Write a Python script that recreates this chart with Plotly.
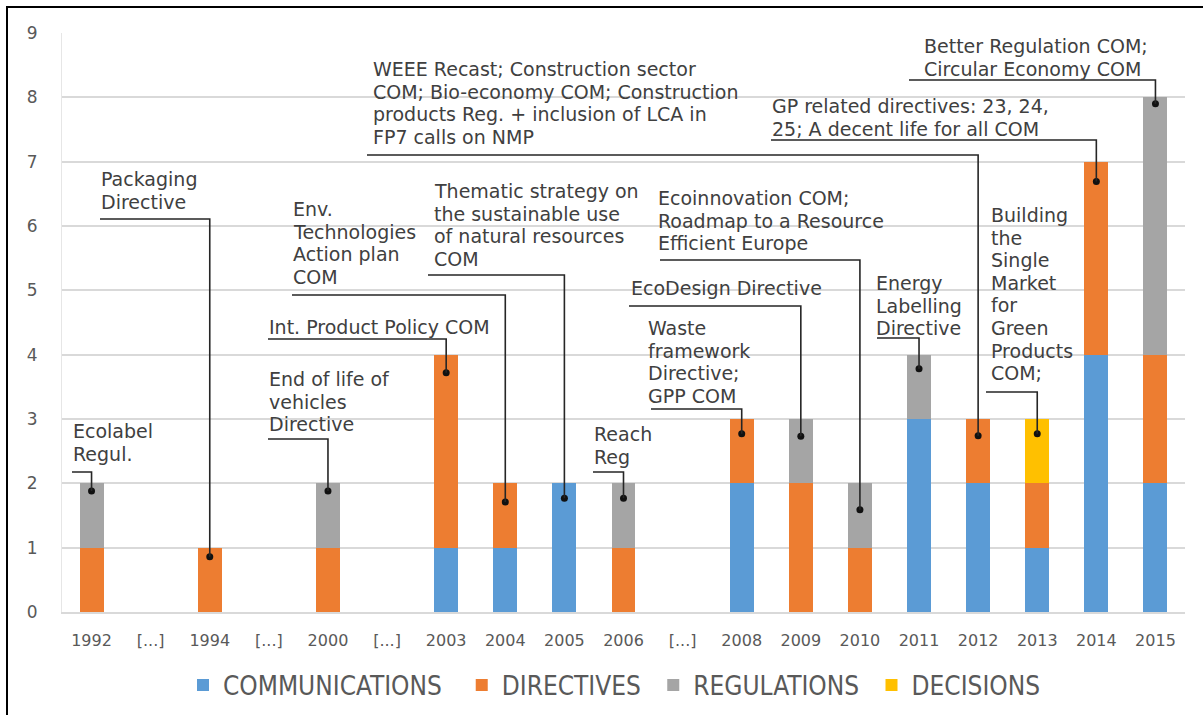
import plotly.graph_objects as go

# ---------------- data ----------------
categories = ["1992", "[...]", "1994", "[...]", "2000", "[...]", "2003", "2004", "2005",
              "2006", "[...]", "2008", "2009", "2010", "2011", "2012", "2013", "2014", "2015"]
communications = [0, 0, 0, 0, 0, 0, 1, 1, 2, 0, 0, 2, 0, 0, 3, 2, 1, 4, 2]
directives     = [1, 0, 1, 0, 1, 0, 3, 1, 0, 1, 0, 1, 2, 1, 0, 1, 1, 3, 2]
regulations    = [1, 0, 0, 0, 1, 0, 0, 0, 0, 1, 0, 0, 1, 1, 1, 0, 0, 0, 4]
decisions      = [0, 0, 0, 0, 0, 0, 0, 0, 0, 0, 0, 0, 0, 0, 0, 0, 1, 0, 0]
y_ticks = [0, 1, 2, 3, 4, 5, 6, 7, 8, 9]

callout_texts = [
    ["Ecolabel", "Regul."],
    ["Packaging", "Directive"],
    ["End of life of", "vehicles", "Directive"],
    ["Int. Product Policy COM"],
    ["Env.", "Technologies", "Action plan", "COM"],
    ["Thematic strategy on", "the sustainable use", "of natural resources", "COM"],
    ["Reach", "Reg"],
    ["WEEE Recast; Construction sector", "COM; Bio-economy COM; Construction",
     "products Reg. + inclusion of LCA in", "FP7 calls on NMP"],
    ["GP related directives: 23, 24,", "25; A decent life for all COM"],
    ["Better Regulation COM;", "Circular Economy COM"],
    ["Ecoinnovation COM;", "Roadmap to a Resource", "Efficient Europe"],
    ["EcoDesign Directive"],
    ["Waste", "framework", "Directive;", "GPP COM"],
    ["Energy", "Labelling", "Directive"],
    ["Building", "the", "Single", "Market", "for", "Green", "Products", "COM;"],
]
callout_bars = [0, 2, 4, 6, 7, 8, 9, 15, 17, 18, 13, 12, 11, 14, 16]
callout_values = [1.88, 0.86, 1.88, 3.72, 1.71, 1.77, 1.77, 2.74, 6.69, 7.90,
                  1.59, 2.73, 2.77, 3.78, 2.77]

# ---------------- layout helpers (pixel positions measured on the reference) ----------------
W, H = 1203, 715
PL, PR, PT, PB = 62, 1185, 33, 612
N = len(categories)
YMAX = 9


def xd(px):
    return (px - PL) / (PR - PL) * N - 0.5


def yd(py):
    return (PB - py) / (PB - PT) * YMAX


def xp(px):
    return (px - PL) / (PR - PL)


def yp(py):
    return (PB - py) / (PB - PT)


# (text left, first line centre, leader y, leader x start) in pixels
callout_pos = [
    (72, 431, 472, 72),
    (100, 179, 219, 100),
    (268, 379, 439, 268),
    (268, 327, 339, 268),
    (292, 209, 295, 292),
    (433, 191, 275, 428),
    (593, 434, 472, 593),
    (372, 69, 155, 367),
    (771, 106, 140, 771),
    (923, 46, 80, 909),
    (657, 198, 260, 660),
    (630, 288, 306, 629),
    (647, 328, 409, 651),
    (875, 283, 338, 877),
    (990, 215, 392, 986),
]
LINE_STEP = 22.6

colors = {"COMMUNICATIONS": "#5B9BD5", "DIRECTIVES": "#ED7D31",
          "REGULATIONS": "#A5A5A5", "DECISIONS": "#FFC000"}
series = [("COMMUNICATIONS", communications), ("DIRECTIVES", directives),
          ("REGULATIONS", regulations), ("DECISIONS", decisions)]
legend_pads = ["\u00a0\u00a0", "\u00a0", "\u00a0", ""]

xs = list(range(N))
fig = go.Figure()
for (name, vals), pad in zip(series, legend_pads):
    fig.add_trace(go.Bar(x=xs, y=vals, name=name + pad,
                         marker=dict(color=colors[name], line=dict(width=0)),
                         hoverinfo="skip"))

fig.add_trace(go.Scatter(x=callout_bars, y=callout_values, mode="markers",
                         marker=dict(color="#111111", size=7), showlegend=False,
                         hoverinfo="skip", cliponaxis=False))

annotations = []
shapes = []
for lines, bar, val, (tx, ty, ly, lx) in zip(callout_texts, callout_bars, callout_values, callout_pos):
    for i, ln in enumerate(lines):
        annotations.append(dict(
            x=xd(tx), y=yd(ty + i * LINE_STEP), xref="x", yref="y",
            text=ln, showarrow=False, xanchor="left", yanchor="middle",
            font=dict(family="DejaVu Sans", size=19, color="#404040"),
            borderpad=0))
    path = f"M {xd(lx)},{yd(ly)} L {bar},{yd(ly)} L {bar},{val}"
    shapes.append(dict(type="path", path=path, xref="x", yref="y",
                       line=dict(color="#262626", width=1.6)))

# outer frame (top and left edges visible)
shapes.append(dict(type="path", xref="paper", yref="paper",
                   path=f"M {xp(7)},{yp(730)} L {xp(7)},{yp(7)} L {xp(1220)},{yp(7)}",
                   line=dict(color="#000000", width=2)))

fig.update_layout(
    width=W, height=H,
    margin=dict(l=PL, r=W - PR, t=PT, b=H - PB, autoexpand=False),
    barmode="stack",
    bargap=0.595,
    plot_bgcolor="white",
    paper_bgcolor="white",
    annotations=annotations,
    shapes=shapes,
    showlegend=True,
    legend=dict(orientation="h", x=xp(614.5), xanchor="center", y=yp(685), yanchor="middle",
                font=dict(family="Liberation Sans Narrow, Arial Narrow, DejaVu Sans Condensed",
                          size=26, color="#595959"),
                traceorder="normal"),
    xaxis=dict(range=[-0.5, N - 0.5], tickmode="array", tickvals=xs, ticktext=categories,
               showgrid=False, showline=True, linecolor="#D9D9D9", linewidth=1.5,
               zeroline=False, ticks="", ticklabelstandoff=13,
               tickfont=dict(family="DejaVu Sans", size=16, color="#595959")),
    yaxis=dict(range=[0, YMAX], tickmode="array", tickvals=y_ticks,
               showgrid=True, gridcolor="#D9D9D9", gridwidth=1.5,
               showline=True, linecolor="#E6E6E6", linewidth=1,
               zeroline=False, ticks="", ticklabelstandoff=20,
               tickfont=dict(family="DejaVu Sans", size=17, color="#595959")),
)

fig.write_html("out.html", config={"displayModeBar": False},
               post_script="document.body.style.margin='0px';")
